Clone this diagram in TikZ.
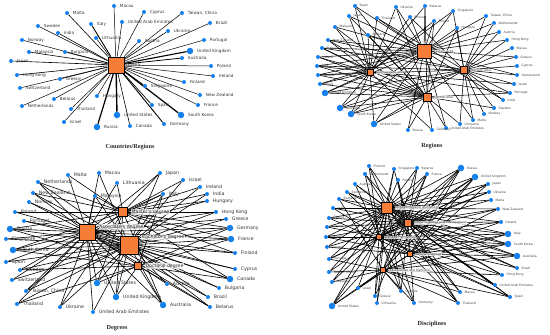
\documentclass[tikz,border=0pt]{standalone}
\usepackage{fontspec}
\setmainfont{Liberation Serif}
\newfontfamily\lblfont{DejaVu Sans}
\usepackage{xcolor}
\usepackage{tikz}
\usetikzlibrary{positioning,backgrounds}
\definecolor{dotblue}{RGB}{20,128,236}
\definecolor{huborange}{RGB}{245,125,55}

\begin{document}
\begin{tikzpicture}[x=1pt,y=-1pt,
  dot/.style={circle,fill=dotblue,inner sep=0pt,minimum size=4pt},
  bigdot/.style={dot,minimum size=6.5pt},
  hub/.style={rectangle,fill=huborange,draw=black,line width=0.8pt,inner sep=0pt},
  lbl/.style={font=\lblfont\fontsize{4.2}{5}\selectfont,inner sep=0.5pt,text=black!80,label distance=3pt},
  lblb/.style={lbl,font=\lblfont\fontsize{4.7}{5.5}\selectfont},
  tiny/.style={font=\lblfont\fontsize{3.1}{3.5}\selectfont,inner sep=0.3pt,text=black!75,label distance=2pt},
  hubt/.style={tiny,fill=white,fill opacity=0.75,text opacity=1},
  hubb/.style={lblb,fill=white,fill opacity=0.7,text opacity=1},
  edge/.style={line width=0.55pt},
  ttl/.style={font=\bfseries\fontsize{6.2}{7}\selectfont,text=black!85}]
\useasboundingbox (0,0) rectangle (550,335);

%% Countries/Regions
\node[hub,minimum size=16pt,label={[lbl]right:China}] (cn) at (116,65) {};
\foreach \x/\y/\lb/\s/\w [count=\i] in {114/6/Macau/dot/0.5, 67/13/Malta/dot/0.6,
  144/12/Cyprus/dot/0.5, 182/13/{Taiwan, China}/dot/0.5, 91/24/Italy/dot/0.9,
  122/22/United Arab Emirates/dot/0.5, 210/23/Brazil/dot/0.5, 38/26/Sweden/dot/0.5,
  58/33/India/dot/0.6, 168/31/Ukraine/dot/0.6, 96/38/Lithuania/dot/0.5,
  139/41/Austria/dot/0.5, 204/40/Portugal/dot/0.5, 22/40/Norway/dot/0.5,
  29/52/Malaysia/dot/0.6, 65/52/Bulgaria/dot/0.5, 190/51/United Kingdom/bigdot/1.1,
  182/58/Australia/dot/0.8, 11/61/Japan/dot/0.6, 211/66/Poland/dot/0.5,
  17/75/Hong Kong/dot/0.6, 60/79/Greece/dot/0.5, 213/76/Ireland/dot/0.5,
  184/82/Finland/dot/0.5, 20/88/Switzerland/dot/0.5, 145/86/Singapore/dot/0.7,
  54/99/Belarus/dot/0.5, 97/96/Hungary/dot/0.5, 200/95/New Zealand/dot/0.5,
  22/106/Netherlands/dot/0.5, 71/109/Thailand/dot/0.5, 152/105/Spain/dot/0.7,
  198/105/France/dot/0.5, 117/115/United States/bigdot/1.4, 181/115/South Korea/bigdot/1.2,
  64/122/Israel/dot/0.5, 97/127/Russia/bigdot/1.2, 130/126/Canada/dot/0.6,
  164/124/Germany/dot/0.9}{
  \node[\s,label={[lbl]right:\lb}] (c\i) at (\x,\y) {};
  \begin{pgfonlayer}{background}
  \draw[line width=\w pt] (cn) -- (c\i);
  \end{pgfonlayer}
}
\node[ttl] (tcr) at (130,147) {Countries/Regions};

%% Regions
\node[hub,minimum size=14pt,label={[hubt]right:Eastern area}] (rE) at (424,51) {};
\node[hub,minimum size=6pt,label={[hubt]right:Northeastern area}] (rL) at (370,72) {};
\node[hub,minimum size=7pt,label={[hubt]right:Western area}] (rR) at (464,70) {};
\node[hub,minimum size=8pt,label={[hubt]right:Central area}] (rC) at (427,97) {};
\foreach \x/\y/\lb/\s/\hs [count=\i] in {355/6/Spain/dot/{E,L,C}, 349/16/Japan/dot/{E,L,C},
  377/18/Thailand/dot/{E,L,R}, 396/7/Ukraine/dot/{E,C,L}, 425/6/Belarus/dot/{E,L,C},
  410/17/Finland/dot/{E,L,R}, 453/11/Singapore/dot/{E,R,L}, 434/21/Poland/dot/{E,L,C},
  486/16/{Taiwan, China}/dot/{R,E}, 494/23/Netherlands/dot/{R,E}, 457/28/Hungary/dot/{E,R,C},
  335/27/Malaysia/dot/{E,L,C}, 499/32/Austria/dot/{R,E}, 368/35/Bulgaria/dot/{L,E,C},
  507/40/Hong Kong/dot/{R,E}, 328/40/New Zealand/dot/{L,E,C,R}, 512/48/Macau/dot/{R},
  322/48/France/dot/{L,E,C,R}, 516/57/Greece/dot/{R,E}, 318/57/Ireland/dot/{L,E,C},
  517/66/Cyprus/dot/{R}, 317/66/Italy/dot/{L,E,C,R}, 517/75/Switzerland/dot/{R,E},
  318/75/Canada/dot/{L,E,C,R}, 514/84/Israel/dot/{R,L}, 320/84/Brazil/dot/{L,E,C},
  510/93/Portugal/dot/{R,C,L}, 325/93/United Kingdom/bigdot/{L,E,C,R}, 503/100/India/dot/{R,E},
  494/108/Sweden/dot/{R,C}, 340/108/Australia/bigdot/{L,E,C,R}, 484/114/Norway/dot/{R},
  351/114/South Korea/bigdot/{L,E,C,R}, 473/120/Malta/dot/{R,E}, 460/124/Lithuania/dot/{R,C},
  446/128/United Arab Emirates/dot/{E,C}, 408/130/Russia/dot/{C,E}, 432/130/Germany/dot/{C,L},
  374/124/United States/bigdot/{L,E,C,R}}{
  \node[\s,label={[tiny]right:\lb}] (r\i) at (\x,\y) {};
  \begin{pgfonlayer}{background}
  \foreach \h in \hs {\draw[edge] (r\h) -- (r\i);}
  \end{pgfonlayer}
}
\node[ttl] (treg) at (432,146) {Regions};

%% Degrees
\node[hub,minimum size=9pt,label={[hubb]right:Master's degree}] (dM) at (123,212) {};
\node[hub,minimum size=16pt,label={[hubb]10:Associate's degree}] (dA) at (87,232) {};
\node[hub,minimum size=18pt,label={[hubb]20:Bachelor's degree}] (dB) at (129,245) {};
\node[hub,minimum size=7pt,label={[hubb]right:Doctoral degree}] (dD) at (138,266) {};
\foreach \x/\y/\lb/\s/\hs [count=\i] in {68/175/Malta/dot/{M,A}, 99/173/Macau/dot/{A,B},
  160/173/Japan/dot/{M,A,B}, 38/182/Netherlands/dot/{A,B,M}, 117/183/Lithuania/dot/{M,A},
  183/180/Israel/dot/{M,B}, 200/187/Ireland/dot/{M,B}, 33/193/New Zealand/dot/{A,B,M},
  95/196/Malaysia/dot/{M,A,B}, 163/194/Italy/dot/{M,A,B,D}, 207/194/India/dot/{M,B},
  29/202/Norway/dot/{A,B}, 207/201/Hungary/dot/{M,A}, 15/212/Poland/dot/{A,M},
  216/212/Hong Kong/dot/{M,A,B}, 24/221/Portugal/dot/{A,B}, 226/219/Greece/dot/{A,B},
  10/229/Russia/bigdot/{A,B,M,D}, 230/228/Germany/bigdot/{M,A,B,D}, 6/239/Singapore/dot/{A,B},
  231/239/France/bigdot/{A,B,M,D}, 13/250/South Korea/bigdot/{A,B,M,D},
  235/253/Finland/dot/{A,B,M}, 6/262/Spain/dot/{A,B}, 20/270/Sweden/dot/{A,B,D},
  235/269/Cyprus/dot/{A,B}, 12/280/Switzerland/dot/{A,B}, 97/283/United States/bigdot/{A,B,M,D},
  230/279/Canada/bigdot/{A,B,M,D}, 167/284/Austria/dot/{A,B}, 219/288/Bulgaria/dot/{A,B},
  26/291/{Taiwan, China}/dot/{A,B,M}, 116/297/United Kingdom/bigdot/{A,B,M,D},
  208/297/Brazil/dot/{A,B}, 17/304/Thailand/dot/{A,B,D}, 60/307/Ukraine/dot/{A,B,M},
  163/305/Australia/bigdot/{A,B,M,D}, 210/307/Belarus/dot/{A,B,D},
  93/312/United Arab Emirates/dot/{A,B}}{
  \node[\s,label={[lblb]right:\lb}] (d\i) at (\x,\y) {};
  \begin{pgfonlayer}{background}
  \foreach \h in \hs {\draw[line width=0.6pt] (d\h) -- (d\i);}
  \end{pgfonlayer}
}
\node[ttl] (tdeg) at (117,328) {Degrees};

%% Disciplines
\node[hub,minimum size=11pt,label={[hubt]right:Engineering and Technology}] (sT) at (387,208) {};
\node[hub,minimum size=7pt,label={[hubt]right:Social Sciences and Management}] (sS) at (408,223) {};
\node[hub,minimum size=5pt,label={[hubt]right:Arts and Humanities}] (sH) at (379,237) {};
\node[hub,minimum size=4.5pt,label={[hubt]right:Natural Sciences}] (sN) at (410,254) {};
\node[hub,minimum size=4.5pt,label={[hubt]right:Life Sciences and Medicine}] (sL) at (383,270) {};
\foreach \x/\y/\lb/\s/\hs [count=\i] in {461/168/Russia/bigdot/{T,S,H,N,L},
  417/168/Belarus/dot/{T,S,L}, 394/169/Singapore/dot/{T,S,H}, 369/166/Finland/dot/{T,H,S},
  365/174/Netherlands/dot/{T,S,H}, 427/174/France/dot/{T,S,L,H},
  475/177/United Kingdom/bigdot/{T,S,H,N,L}, 398/180/Poland/dot/{T,S,N},
  355/184/Austria/dot/{T,H,S}, 488/184/Japan/dot/{T,S,N,H}, 347/192/Switzerland/dot/{T,N,S},
  489/192/Ukraine/dot/{T,S,H}, 339/199/Bulgaria/dot/{T,L,S}, 491/200/Malta/dot/{S,T},
  333/208/India/dot/{T,H,S}, 498/209/New Zealand/dot/{T,S,N,H}, 329/218/Cyprus/dot/{T,S,N},
  327/227/Norway/dot/{T,H,S}, 501/222/Ireland/dot/{T,S,H,N}, 326/237/Hungary/dot/{T,H,S,N},
  508/234/Italy/bigdot/{T,S,H,N,L}, 327/247/Sweden/dot/{T,N,S},
  508/244/South Korea/bigdot/{T,S,H,N,L}, 517/256/Australia/bigdot/{T,S,H,N,L},
  329/259/Portugal/dot/{T,H,L,S}, 517/268/Brazil/dot/{T,S,H}, 329/272/{Taiwan, China}/dot/{T,L,H},
  502/275/Hong Kong/dot/{T,S,L,H}, 332/282/Malaysia/dot/{T,H,L}, 358/288/Israel/dot/{T,L,N},
  495/285/United Arab Emirates/dot/{T,S,H}, 375/296/Greece/dot/{T,H,S},
  401/291/Canada/dot/{T,S,H,L}, 460/292/Macau/dot/{S,L,T}, 510/297/Spain/dot/{T,S,N,L,H},
  332/306/United States/bigdot/{T,S,H,N,L}, 377/303/Lithuania/dot/{T,L},
  414/303/Germany/dot/{T,S,H,L}, 458/303/Thailand/dot/{T,S,N,L}}{
  \node[\s,label={[tiny]right:\lb}] (s\i) at (\x,\y) {};
  \begin{pgfonlayer}{background}
  \foreach \h in \hs {\draw[line width=0.6pt] (s\h) -- (s\i);}
  \end{pgfonlayer}
}
\node[ttl] (tdis) at (432,324) {Disciplines};
\end{tikzpicture}
\end{document}
